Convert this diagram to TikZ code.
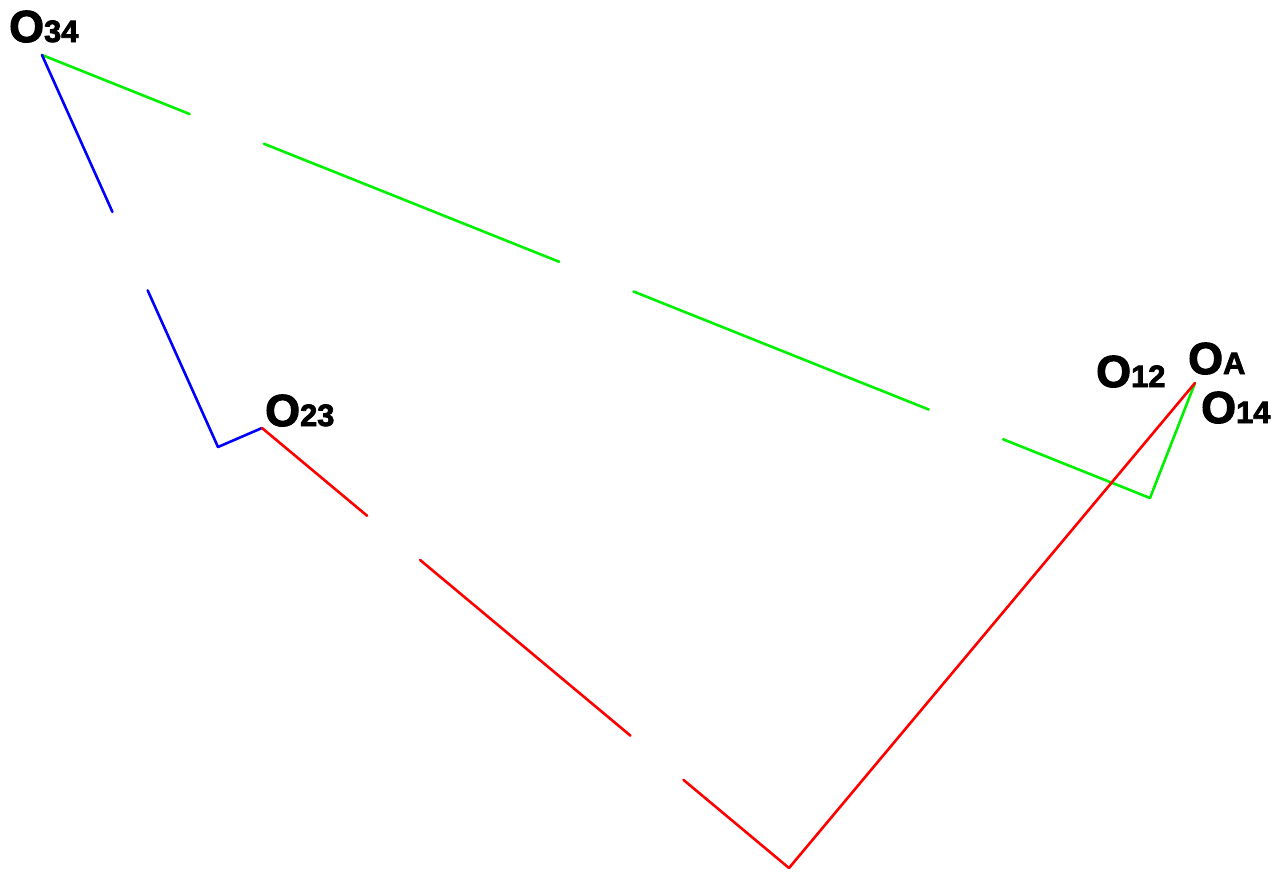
\documentclass[tikz,border=0pt]{standalone}
\usepackage{fontspec}
\setmainfont{Liberation Sans}[BoldFeatures={FakeBold=2.5}]
\usepackage{tikz}
\usetikzlibrary{positioning}
\definecolor{LinkBlue}{HTML}{0000FF}
\definecolor{LinkGreen}{HTML}{00F000}
\definecolor{LinkRed}{HTML}{FF0000}
\newcommand{\pinlabel}[2]{{\fontsize{45}{45}\selectfont #1}{\fontsize{31}{31}\selectfont #2}}

\begin{document}
\begin{tikzpicture}[x=1bp,y=-1bp,
    link/.style={line width=2.6bp,line cap=round},
    lbl/.style={anchor=base west,inner sep=0pt,font=\bfseries}
]
\useasboundingbox (0,0) rectangle (1285,873);
\coordinate (o34) at (42,55);
\coordinate (bk) at (218,447);
\coordinate (o23) at (262,428);
\coordinate (rk) at (789,868);
\coordinate (gk) at (1150,498);
\coordinate (oa) at (1195,383);
\draw[link,LinkGreen,dash pattern=on 318bp off 80bp,dash phase=159bp] (o34) -- (gk);
\draw[link,LinkGreen] (gk) -- (oa);
\draw[link,LinkBlue,dash pattern=on 344bp off 86bp,dash phase=172bp] (o34) -- (bk);
\draw[link,LinkBlue] (bk) -- (o23);
\draw[link,LinkRed,dash pattern=on 274bp off 69bp,dash phase=137bp] (o23) -- (rk);
\draw[link,LinkRed] (rk) -- (oa);
\node[lbl] (l34) at (9,42) {\pinlabel{O}{34}};
\node[lbl] (l23) at (265,426) {\pinlabel{O}{23}};
\node[lbl] (l12) at (1096,387) {\pinlabel{O}{12}};
\node[lbl] (lA) at (1188,374) {\pinlabel{O}{A}};
\node[lbl] (l14) at (1201,423) {\pinlabel{O}{14}};
\end{tikzpicture}
\end{document}
